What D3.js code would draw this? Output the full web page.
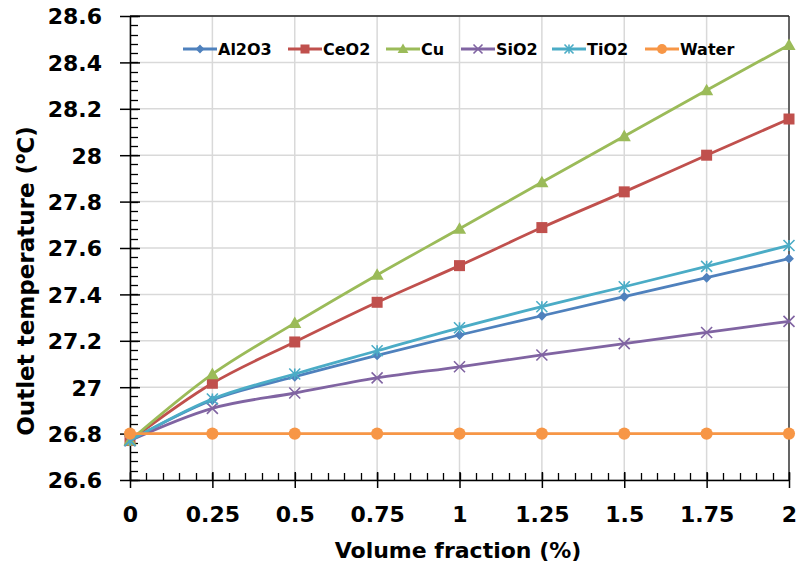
<!DOCTYPE html>
<html>
<head>
<meta charset="utf-8">
<script src="https://cdn.jsdelivr.net/npm/d3@7"></script>
<style>
  body { margin: 0; background: #fff; }
  svg { display: block; }
</style>
</head>
<body>
<svg id="chart" width="799" height="570"></svg>
<script>
// ---- data ----
const volumeFractions = [0, 0.25, 0.5, 0.75, 1, 1.25, 1.5, 1.75, 2];
const seriesNames = ["Al2O3", "CeO2", "Cu", "SiO2", "TiO2", "Water"];
const al2o3 = [26.77, 26.945, 27.045, 27.137, 27.225, 27.308, 27.39, 27.472, 27.554];
const ceo2  = [26.77, 27.017, 27.195, 27.366, 27.524, 27.688, 27.842, 28.0, 28.156];
const cu    = [26.77, 27.056, 27.276, 27.484, 27.683, 27.883, 28.082, 28.28, 28.475];
const sio2  = [26.77, 26.909, 26.975, 27.04, 27.088, 27.139, 27.188, 27.236, 27.284];
const tio2  = [26.77, 26.949, 27.057, 27.157, 27.256, 27.347, 27.433, 27.521, 27.611];
const water = [26.8, 26.8, 26.8, 26.8, 26.8, 26.8, 26.8, 26.8, 26.8];
const yTickValues = [26.6, 26.8, 27, 27.2, 27.4, 27.6, 27.8, 28, 28.2, 28.4, 28.6];
const xTickValues = [0, 0.25, 0.5, 0.75, 1, 1.25, 1.5, 1.75, 2];
const xTitle = "Volume fraction (%)";

// ---- styling ----
const colors = ["#4F81BD", "#C0504D", "#9BBB59", "#8064A2", "#4BACC6", "#F79646"];
const markers = ["diamond", "square", "triangle", "x", "star", "circle"];
const seriesValues = [al2o3, ceo2, cu, sio2, tio2, water];
const FONT = "'DejaVu Sans', sans-serif";

const svg = d3.select("#chart");
const x = d3.scaleLinear().domain([0, 2]).range([130, 789]);
const y = d3.scaleLinear().domain([26.6, 28.6]).range([480, 16]);

// gridlines
const grid = svg.append("g");
grid.selectAll("line.h").data(yTickValues).join("line")
  .attr("x1", x(0)).attr("x2", x(2))
  .attr("y1", d => y(d)).attr("y2", d => y(d))
  .attr("stroke", "#d9d9d9").attr("stroke-width", 1.5);
grid.selectAll("line.v").data(xTickValues).join("line")
  .attr("x1", d => x(d)).attr("x2", d => x(d))
  .attr("y1", y(26.6)).attr("y2", y(28.6))
  .attr("stroke", "#d9d9d9").attr("stroke-width", 1.5);

// frame top/right
svg.append("line").attr("x1", x(0)).attr("x2", x(2)).attr("y1", y(28.6)).attr("y2", y(28.6))
  .attr("stroke", "#222").attr("stroke-width", 1.3);
svg.append("line").attr("x1", x(2)).attr("x2", x(2)).attr("y1", y(28.6)).attr("y2", y(26.6))
  .attr("stroke", "#222").attr("stroke-width", 1.3);

// minor ticks
const yMinor = d3.range(0, 51).map(i => 26.6 + i * 0.04);
const xMinor = d3.range(0, 41).map(i => i * 0.05);
svg.append("g").selectAll("line").data(yMinor).join("line")
  .attr("x1", x(0)).attr("x2", x(0) + 8)
  .attr("y1", d => Math.round(y(d)) + 0.5).attr("y2", d => Math.round(y(d)) + 0.5)
  .attr("stroke", "#000").attr("stroke-width", 1.3);
svg.append("g").selectAll("line").data(xMinor).join("line")
  .attr("x1", d => Math.round(x(d)) + 0.5).attr("x2", d => Math.round(x(d)) + 0.5)
  .attr("y1", y(26.6)).attr("y2", y(26.6) - 7)
  .attr("stroke", "#000").attr("stroke-width", 1.3);

// axes with crossing major ticks
const yAxis = svg.append("g").attr("transform", `translate(${x(0)},0)`)
  .call(d3.axisLeft(y).tickValues(yTickValues).tickSize(10).tickSizeOuter(0).tickPadding(18)
    .tickFormat(d => String(+d.toFixed(1))));
yAxis.select(".domain").attr("stroke", "#000").attr("stroke-width", 1.5);
yAxis.selectAll(".tick line").attr("x2", -10).attr("x1", 10).attr("stroke-width", 1.5);
yAxis.selectAll(".tick text").attr("font-family", FONT).attr("font-weight", "bold")
  .attr("font-size", 22).attr("fill", "#000").attr("dy", "0.36em").attr("x", -28);

const xAxis = svg.append("g").attr("transform", `translate(0,${y(26.6)})`)
  .call(d3.axisBottom(x).tickValues(xTickValues).tickSize(8).tickSizeOuter(0).tickPadding(18)
    .tickFormat(d => String(d)));
xAxis.select(".domain").attr("stroke", "#000").attr("stroke-width", 1.5);
xAxis.selectAll(".tick line").attr("y1", -8).attr("y2", 8).attr("stroke-width", 1.5);
xAxis.selectAll(".tick text").attr("font-family", FONT).attr("font-weight", "bold")
  .attr("font-size", 22).attr("fill", "#000").attr("dy", 0).attr("y", 42);

// axis titles
svg.append("text").attr("x", 458).attr("y", 558).attr("text-anchor", "middle")
  .attr("font-family", FONT).attr("font-weight", "bold").attr("font-size", 22)
  .attr("fill", "#000").text(xTitle);
const yt = svg.append("text").attr("transform", "translate(34,281) rotate(-90)")
  .attr("text-anchor", "middle").attr("font-family", FONT).attr("font-weight", "bold")
  .attr("font-size", 23).attr("fill", "#000");
yt.append("tspan").text("Outlet temperature (");
yt.append("tspan").attr("font-size", 15).attr("dy", -9).text("o");
yt.append("tspan").attr("dy", 9).text("C)");

// marker drawing
function drawMarker(g, type, color, s) {
  if (type === "circle") {
    g.append("circle").attr("r", s * 0.55).attr("fill", color);
  } else if (type === "square") {
    g.append("rect").attr("x", -s * 0.5).attr("y", -s * 0.5).attr("width", s).attr("height", s).attr("fill", color);
  } else if (type === "diamond") {
    const r = s * 0.55;
    g.append("path").attr("d", `M0,${-r}L${r},0L0,${r}L${-r},0Z`).attr("fill", color);
  } else if (type === "triangle") {
    const r = s * 0.6;
    g.append("path").attr("d", `M0,${-r}L${r},${r * 0.75}L${-r},${r * 0.75}Z`).attr("fill", color);
  } else if (type === "x") {
    const r = s * 0.5;
    g.append("path").attr("d", `M${-r},${-r}L${r},${r}M${-r},${r}L${r},${-r}`)
      .attr("stroke", color).attr("stroke-width", 1.6).attr("fill", "none");
  } else if (type === "star") {
    const r = s * 0.5;
    g.append("path").attr("d", `M${-r},${-r}L${r},${r}M${-r},${r}L${r},${-r}M0,${-r}L0,${r}`)
      .attr("stroke", color).attr("stroke-width", 1.6).attr("fill", "none");
  }
}
const markerSizes = [9, 11, 11, 11, 11, 11];

const line = d3.line().x(d => x(d[0])).y(d => y(d[1])).curve(d3.curveCatmullRom.alpha(0.5));
seriesNames.forEach((name, i) => {
  const pts = volumeFractions.map((v, j) => [v, seriesValues[i][j]]);
  const g = svg.append("g");
  g.append("path").attr("d", line(pts)).attr("fill", "none")
    .attr("stroke", colors[i]).attr("stroke-width", 2.8).attr("stroke-linejoin", "round");
  pts.forEach(p => {
    const mg = g.append("g").attr("transform", `translate(${x(p[0])},${y(p[1])})`);
    drawMarker(mg, markers[i], colors[i], markerSizes[i]);
  });
});

// legend
const legendX = [183, 288, 386, 461, 552, 645];
const legend = svg.append("g");
seriesNames.forEach((name, i) => {
  const g = legend.append("g").attr("transform", `translate(${legendX[i]},49)`);
  g.append("line").attr("x1", 0).attr("x2", 34).attr("y1", 0).attr("y2", 0)
    .attr("stroke", colors[i]).attr("stroke-width", 2.8);
  const mg = g.append("g").attr("transform", "translate(17,0)");
  drawMarker(mg, markers[i], colors[i], markers[i] === "diamond" ? 8 : 9);
  g.append("text").attr("x", 35).attr("y", 6).attr("font-family", FONT).attr("font-weight", "bold")
    .attr("font-size", 16).attr("fill", "#000").text(name);
});
</script>
</body>
</html>
